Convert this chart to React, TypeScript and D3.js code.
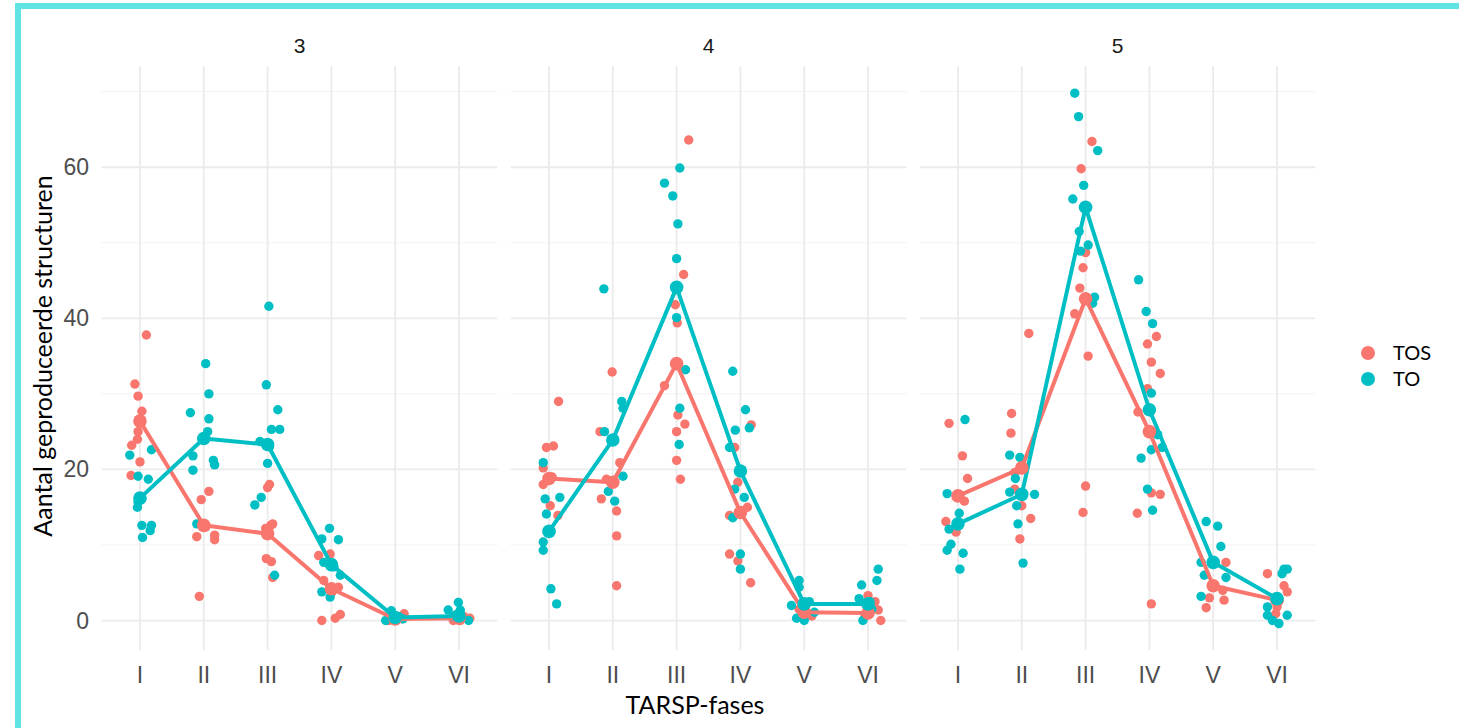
import React from "react";
import * as d3 from "d3";

// ---------- data ----------
const phases = ["I", "II", "III", "IV", "V", "VI"];
const facets = ["3", "4", "5"];
const groups = ["TOS", "TO"];
const groupColors = ["#F8766D", "#00BFC4"];
const yTicks = [0, 20, 40, 60];
const yMinor = [10, 30, 50, 70];

// means per phase (line vertices / large dots)
const tosMeans3 = [26.4, 12.6, 11.5, 4.2, 0.2, 0.3];
const toMeans3 = [16.2, 24.1, 23.3, 7.4, 0.4, 0.6];
const tosMeans4 = [18.8, 18.3, 34.0, 14.3, 1.1, 1.0];
const toMeans4 = [11.8, 23.9, 44.1, 19.8, 2.2, 2.2];
const tosMeans5 = [16.5, 20.2, 42.6, 25.0, 4.6, 2.7];
const toMeans5 = [12.8, 16.7, 54.7, 27.9, 7.7, 2.9];

// individual observations per phase: [value, jitter (in category units)]
const tosPoints3 = [
  [[37.8, 0.1], [31.3, -0.08], [29.7, -0.03], [27.7, 0.03], [26.6, -0.02], [25, -0.03], [24, -0.04], [23.2, -0.13], [21, 0], [19.2, -0.14]],
  [[17.1, 0.08], [16, -0.04], [12.8, 0], [12.4, 0.03], [11.1, -0.11], [11.3, 0.17], [10.7, 0.17], [3.2, -0.07]],
  [[18, 0.03], [17.6, 0], [12.8, 0.08], [12.2, -0.03], [12.6, 0.05], [8.2, -0.02], [7.8, 0.06], [5.7, 0.08]],
  [[8.6, -0.2], [8.8, -0.02], [5.3, -0.12], [4.4, 0.11], [3.8, 0.01], [0, -0.15], [0.3, 0.06], [0.8, 0.14]],
  [[0.9, 0.14], [0, -0.1], [0.3, 0.03], [0.1, -0.03]],
  [[0.3, 0.17], [0, -0.09], [0, 0.02], [0.5, 0.08]],
];
const toPoints3 = [
  [[22.6, 0.18], [21.9, -0.16], [19.1, -0.03], [18.7, 0.13], [16.3, 0], [15.7, -0.03], [15, -0.04], [12.6, 0.03], [12.6, 0.18], [11.9, 0.16], [11.0, 0.04]],
  [[34, 0.03], [30, 0.08], [27.5, -0.21], [26.7, 0.08], [25, 0.06], [24, 0], [21.8, -0.17], [21.2, 0.15], [20.6, 0.17], [19.9, -0.17], [12.8, -0.11]],
  [[41.6, 0.02], [31.2, -0.02], [27.9, 0.16], [25.3, 0.06], [25.3, 0.19], [23.7, -0.12], [23, 0.03], [20.8, 0], [16.3, -0.1], [15.3, -0.2], [6.0, 0.11]],
  [[12.2, -0.03], [10.8, -0.15], [10.7, 0.11], [7.7, -0.12], [7.4, 0.01], [7.1, 0.04], [6.0, 0.14], [3.8, -0.15], [3.1, -0.02]],
  [[0, -0.15], [0.3, -0.1], [0, 0.01], [1.3, -0.06], [0.5, 0.06], [0.2, 0.12]],
  [[2.4, -0.01], [1.4, -0.17], [1.4, 0.02], [0.8, -0.04], [0, 0.15], [0.5, -0.09]],
];
const tosPoints4 = [
  [[29.0, 0.15], [22.9, -0.04], [23.1, 0.07], [20.2, -0.09], [19, 0.05], [18, -0.09], [15.2, 0.02], [13.9, 0.14]],
  [[32.9, -0.01], [25, -0.2], [20.9, 0.11], [18.7, -0.1], [18.3, 0], [16.1, -0.18], [14.5, 0.06], [11.2, 0.06], [4.6, 0.06]],
  [[63.6, 0.19], [45.8, 0.11], [41.8, -0.02], [39.4, 0.01], [31.1, -0.19], [27.2, 0.02], [26.0, 0.13], [25, 0], [21.2, 0], [18.7, 0.06]],
  [[25.9, 0.17], [22.9, -0.09], [18.3, -0.04], [15, 0.11], [13.9, -0.17], [8.8, -0.17], [7.9, -0.04], [5.0, 0.16]],
  [[0.3, 0], [1.0, 0.05], [1.5, -0.08], [0.6, 0.12]],
  [[3.3, 0], [1.4, 0.16], [0, 0.2], [2.5, 0.11], [0.5, -0.05]],
];
const toPoints4 = [
  [[20.9, -0.09], [16.1, -0.06], [16.3, 0.17], [14.1, -0.04], [11.8, 0.03], [10.4, -0.09], [9.3, -0.09], [4.2, 0.03], [2.2, 0.12]],
  [[43.9, -0.14], [29, 0.14], [28.1, 0.16], [25, -0.13], [24, 0], [19.1, 0.16], [17.1, -0.07], [15.8, 0.03]],
  [[59.9, 0.05], [57.9, -0.19], [56.2, -0.06], [52.5, 0.02], [47.9, 0], [40.1, 0], [33.2, 0.14], [28.1, 0.05], [23.3, 0.04]],
  [[33, -0.12], [27.9, 0.08], [25.5, 0.14], [25.2, -0.08], [22.9, -0.17], [17.4, -0.09], [16.3, 0.06], [13.6, -0.12], [8.8, 0], [6.8, 0]],
  [[5.3, -0.08], [4.4, -0.08], [2.0, -0.2], [0, 0], [1.1, 0.16], [0.3, -0.12], [2.5, 0.08]],
  [[6.8, 0.16], [5.3, 0.14], [4.7, -0.1], [2.9, -0.14], [0, -0.08], [1.5, 0.06], [2.5, 0.03]],
];
const tosPoints5 = [
  [[26.1, -0.14], [21.8, 0.07], [18.8, 0.15], [16.5, 0], [15.8, 0.1], [13.1, -0.19], [11.7, -0.03]],
  [[38.0, 0.11], [27.4, -0.16], [24.8, -0.17], [20.2, 0], [19.6, -0.11], [17.4, -0.11], [15.2, 0], [13.5, 0.14], [10.8, -0.03]],
  [[63.4, 0.1], [59.8, -0.07], [48.7, 0], [46.7, -0.04], [44, -0.09], [40.6, -0.17], [35, 0.04], [17.8, 0], [14.3, -0.04]],
  [[37.6, 0.11], [36.6, -0.03], [34.2, 0.03], [32.7, 0.17], [30.7, -0.03], [27.6, -0.18], [16.9, 0.03], [16.7, 0.17], [14.2, -0.19], [2.2, 0.03]],
  [[7.7, 0.2], [4.6, 0.02], [4.0, 0.15], [3.0, -0.06], [2.7, 0.17], [1.7, -0.11]],
  [[6.2, -0.15], [4.6, 0.11], [3.8, 0.16], [1.8, 0], [0.9, -0.02], [2.7, 0.03]],
];
const toPoints5 = [
  [[26.6, 0.11], [16.8, -0.17], [14.2, 0.02], [12.8, 0], [12.1, -0.14], [10.1, -0.11], [9.3, -0.17], [8.9, 0.08], [6.8, 0.03]],
  [[21.9, -0.19], [21.6, -0.03], [18.8, -0.1], [17.0, -0.19], [16.7, 0.2], [16.7, 0], [15.2, -0.08], [12.8, -0.06], [7.6, 0.02]],
  [[69.8, -0.17], [66.7, -0.11], [62.2, 0.19], [57.6, -0.03], [55.8, -0.2], [51.5, -0.1], [49.7, 0.04], [48.9, -0.08], [42.8, 0.14], [42, 0.11]],
  [[45.1, -0.17], [40.9, -0.05], [39.3, 0.05], [30.1, 0.03], [24.6, 0.13], [22.9, 0.2], [22.6, 0.03], [21.5, -0.13], [17.4, -0.03], [14.6, 0.05]],
  [[13.1, -0.11], [12.5, 0.07], [9.8, 0.12], [7.7, -0.19], [7.7, 0.02], [6.0, -0.14], [5.7, 0.2], [3.2, -0.19]],
  [[6.8, 0.11], [6.8, 0.16], [6.2, 0.08], [2.9, 0], [1.8, -0.15], [0.7, -0.15], [0, -0.07], [-0.4, 0.03], [0.7, 0.16]],
];

const facetMeans = [
  [tosMeans3, toMeans3],
  [tosMeans4, toMeans4],
  [tosMeans5, toMeans5],
];
const facetPoints = [
  [tosPoints3, toPoints3],
  [tosPoints4, toPoints4],
  [tosPoints5, toPoints5],
];

// ---------- layout ----------
const W = 1459;
const H = 728;
const panelLeft = 101.7;
const panelWidth = 395.6;
const panelGap = 13.4;
const panelTop = 66;
const panelBottom = 650;
const tickFont = "Liberation Sans, Arial, sans-serif";
const titleFont = "Lato, 'Open Sans', sans-serif";

export default function App() {
  const y = d3.scaleLinear().domain([-3.9, 73.4]).range([panelBottom, panelTop]);

  return (
    <svg
      width={W}
      height={H}
      style={{ position: "absolute", left: 0, top: 0, background: "#fff", display: "block" }}
    >
      <rect x={0} y={0} width={W} height={H} fill="#fff" />
      {/* frame */}
      <rect x={15} y={3} width={W - 15} height={6} fill="#61E2E5" />
      <rect x={15} y={3} width={6} height={H - 3} fill="#61E2E5" />

      {facets.map((f, fi) => {
        const x0 = panelLeft + fi * (panelWidth + panelGap);
        const x = d3.scalePoint<string>().domain(phases).range([x0, x0 + panelWidth]).padding(0.6);
        const step = x.step();
        const lineGen = d3
          .line<number>()
          .x((_, i) => x(phases[i]) as number)
          .y((d) => y(d));
        return (
          <g key={f}>
            {/* grid */}
            {yMinor.map((v) => (
              <line key={"mn" + v} x1={x0} x2={x0 + panelWidth} y1={y(v)} y2={y(v)} stroke="#F2F2F2" strokeWidth={1} />
            ))}
            {yTicks.map((v) => (
              <line key={"mj" + v} x1={x0} x2={x0 + panelWidth} y1={y(v)} y2={y(v)} stroke="#EBEBEB" strokeWidth={1.8} />
            ))}
            {phases.map((p) => (
              <line key={"v" + p} x1={x(p)} x2={x(p)} y1={panelTop} y2={panelBottom} stroke="#EBEBEB" strokeWidth={1.8} />
            ))}
            {/* strip */}
            <text x={x0 + panelWidth / 2} y={53} textAnchor="middle" fontFamily={tickFont} fontSize={21} fill="#1A1A1A">
              {f}
            </text>
            {/* x tick labels */}
            {phases.map((p) => (
              <text key={"t" + p} x={x(p)} y={683} textAnchor="middle" fontFamily={tickFont} fontSize={23} fill="#4D4D4D">
                {p}
              </text>
            ))}
            {/* points */}
            {groups.map((g, gi) => (
              <g key={"p" + g} fill={groupColors[gi]}>
                {facetPoints[fi][gi].map((arr, pi) =>
                  arr.map((d, k) => (
                    <circle key={pi + "-" + k} cx={(x(phases[pi]) as number) + d[1] * step} cy={y(d[0])} r={4.7} />
                  ))
                )}
              </g>
            ))}
            {/* mean lines */}
            {groups.map((g, gi) => (
              <path key={"l" + g} d={lineGen(facetMeans[fi][gi]) || ""} fill="none" stroke={groupColors[gi]} strokeWidth={4} strokeLinejoin="round" />
            ))}
            {groups.map((g, gi) => (
              <g key={"m" + g} fill={groupColors[gi]}>
                {facetMeans[fi][gi].map((v, i) => (
                  <circle key={i} cx={x(phases[i])} cy={y(v)} r={6.8} />
                ))}
              </g>
            ))}
          </g>
        );
      })}

      {/* y tick labels */}
      {yTicks.map((v) => (
        <text key={"yt" + v} x={89} y={y(v) + 8} textAnchor="end" fontFamily={tickFont} fontSize={23} fill="#4D4D4D">
          {v}
        </text>
      ))}

      {/* axis titles */}
      <text
        transform={`translate(52, ${356}) rotate(-90)`}
        textAnchor="middle"
        fontFamily={titleFont}
        fontSize={25}
        fill="#000"
      >
        Aantal geproduceerde structuren
      </text>
      <text x={695} y={714} textAnchor="middle" fontFamily={titleFont} fontSize={25} fill="#000">
        TARSP-fases
      </text>

      {/* legend */}
      {groups.map((g, gi) => (
        <g key={"lg" + g}>
          <circle cx={1368} cy={353 + gi * 26} r={7} fill={groupColors[gi]} />
          <text x={1393} y={360 + gi * 26} fontFamily={titleFont} fontSize={20} fill="#000">
            {g}
          </text>
        </g>
      ))}
    </svg>
  );
}
